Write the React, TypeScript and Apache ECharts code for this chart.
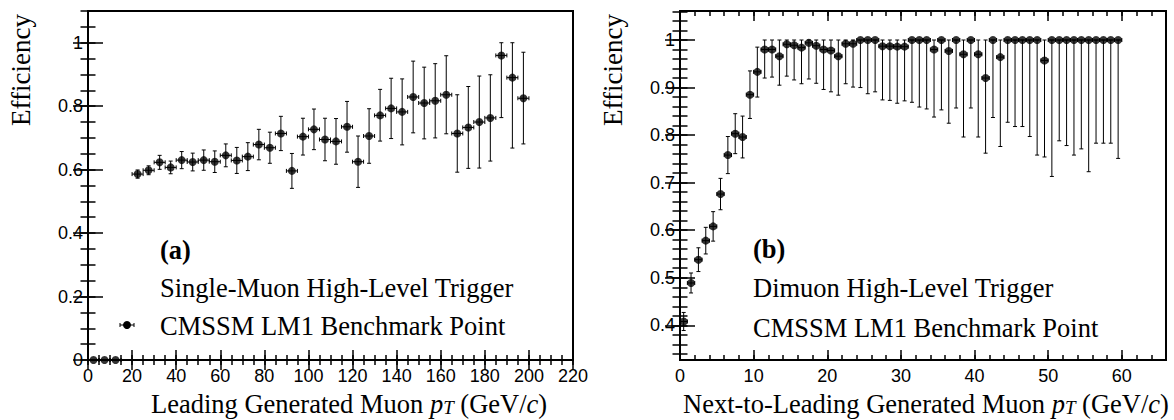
import React, { useEffect, useRef } from 'react';
import * as echarts from 'echarts';

// ---------- Panel (a): leading muon ----------
const leftX = [2.5, 7.5, 12.5, 22.5, 27.5, 32.5, 37.5, 42.5, 47.5, 52.5, 57.5, 62.5, 67.5, 72.5, 77.5, 82.5, 87.5, 92.5, 97.5,
  102.5, 107.5, 112.5, 117.5, 122.5, 127.5, 132.5, 137.5, 142.5, 147.5, 152.5, 157.5, 162.5, 167.5, 172.5, 177.5, 182.5, 187.5, 192.5, 197.5];
const leftEff = [0, 0, 0, 0.586, 0.598, 0.623, 0.607, 0.630, 0.624, 0.630, 0.625, 0.645, 0.629, 0.641, 0.679, 0.669, 0.714, 0.596, 0.704,
  0.727, 0.695, 0.689, 0.735, 0.625, 0.706, 0.771, 0.793, 0.782, 0.829, 0.810, 0.817, 0.836, 0.714, 0.733, 0.750, 0.763, 0.960, 0.890, 0.825];
const leftLo = [0, 0, 0, 0.573, 0.584, 0.601, 0.587, 0.603, 0.596, 0.598, 0.591, 0.609, 0.588, 0.597, 0.631, 0.620, 0.660, 0.541, 0.646,
  0.663, 0.628, 0.617, 0.655, 0.544, 0.620, 0.690, 0.698, 0.678, 0.716, 0.697, 0.700, 0.713, 0.592, 0.604, 0.605, 0.627, 0.764, 0.668, 0.681];
const leftHi = [0, 0, 0, 0.599, 0.612, 0.645, 0.627, 0.657, 0.652, 0.662, 0.659, 0.681, 0.670, 0.685, 0.727, 0.718, 0.768, 0.651, 0.762,
  0.791, 0.762, 0.761, 0.815, 0.706, 0.792, 0.853, 0.888, 0.886, 0.942, 0.923, 0.934, 0.959, 0.836, 0.862, 0.895, 0.899, 1.000, 1.000, 0.970];
const leftBinHalf = 2.5;

// ---------- Panel (b): next-to-leading muon ----------
const rightX = [0.5, 1.5, 2.5, 3.5, 4.5, 5.5, 6.5, 7.5, 8.5, 9.5, 10.5, 11.5, 12.5, 13.5, 14.5, 15.5, 16.5, 17.5, 18.5, 19.5,
  20.5, 21.5, 22.5, 23.5, 24.5, 25.5, 26.5, 27.5, 28.5, 29.5, 30.5, 31.5, 32.5, 33.5, 34.5, 35.5, 36.5, 37.5, 38.5, 39.5,
  40.5, 41.5, 42.5, 43.5, 44.5, 45.5, 46.5, 47.5, 48.5, 49.5, 50.5, 51.5, 52.5, 53.5, 54.5, 55.5, 56.5, 57.5, 58.5, 59.5];
const rightEff = [0.408, 0.489, 0.538, 0.578, 0.608, 0.676, 0.758, 0.803, 0.796, 0.885, 0.933, 0.980, 0.980, 0.966, 0.991, 0.989, 0.984, 0.994, 0.988, 0.980,
  0.978, 0.966, 0.992, 0.992, 1.0, 1.0, 1.0, 0.987, 0.987, 0.986, 0.986, 1.0, 1.0, 1.0, 0.980, 1.0, 0.977, 1.0, 0.970, 1.0,
  0.970, 0.920, 1.0, 0.964, 1.0, 1.0, 1.0, 1.0, 1.0, 0.957, 1.0, 1.0, 1.0, 1.0, 1.0, 1.0, 1.0, 1.0, 1.0, 1.0];
const rightLo = [0.389, 0.468, 0.513, 0.550, 0.577, 0.643, 0.719, 0.761, 0.752, 0.835, 0.880, 0.920, 0.922, 0.905, 0.924, 0.916, 0.908, 0.918, 0.909, 0.896,
  0.891, 0.884, 0.908, 0.901, 0.900, 0.887, 0.891, 0.874, 0.873, 0.867, 0.872, 0.869, 0.859, 0.855, 0.838, 0.853, 0.825, 0.857, 0.796, 0.857,
  0.796, 0.762, 0.837, 0.776, 0.827, 0.818, 0.818, 0.797, 0.758, 0.754, 0.713, 0.788, 0.778, 0.758, 0.771, 0.723, 0.783, 0.783, 0.783, 0.751];
const rightHi = [0.427, 0.510, 0.563, 0.606, 0.639, 0.709, 0.797, 0.845, 0.840, 0.935, 0.985, 1.0, 1.0, 1.0, 1.0, 1.0, 1.0, 1.0, 1.0, 1.0,
  1.0, 1.0, 1.0, 1.0, 1.0, 1.0, 1.0, 1.0, 1.0, 1.0, 1.0, 1.0, 1.0, 1.0, 1.0, 1.0, 1.0, 1.0, 1.0, 1.0,
  1.0, 1.0, 1.0, 1.0, 1.0, 1.0, 1.0, 1.0, 1.0, 1.0, 1.0, 1.0, 1.0, 1.0, 1.0, 1.0, 1.0, 1.0, 1.0, 1.0];
const rightBinHalf = 0.5;

// ---------- Tick labels ----------
const leftXTicks = [0, 20, 40, 60, 80, 100, 120, 140, 160, 180, 200, 220];
const leftYTicks = [0, 0.2, 0.4, 0.6, 0.8, 1];
const rightXTicks = [0, 10, 20, 30, 40, 50, 60];
const rightYTicks = [0.4, 0.5, 0.6, 0.7, 0.8, 0.9, 1];

function steps(a: number, b: number, s: number) {
  const out: number[] = [];
  for (let i = 0; a + i * s <= b + 1e-9; i++) out.push(Math.round((a + i * s) * 1000) / 1000);
  return out;
}

const SANS = 'Liberation Sans';
const SERIF = 'Liberation Serif';

function axes(gridIndex: number, min: number, max: number, major: number[], minor: number[], majorLen: number, minorLen: number, pos: string[], margin: number) {
  const mk = (position: string, ticks: number[], len: number, labels: boolean) => ({
    type: 'value', gridIndex, min, max, position,
    axisLine: { show: false },
    splitLine: { show: false },
    axisTick: { show: true, inside: true, length: len, customValues: ticks, lineStyle: { color: '#000', width: 1.5 } },
    axisLabel: labels
      ? { show: true, customValues: major, margin, color: '#000', fontFamily: SANS, fontSize: 18, formatter: (v: number) => String(v) }
      : { show: false },
  });
  return [
    mk(pos[0], major, majorLen, true),
    mk(pos[0], minor, minorLen, false),
    mk(pos[1], major, majorLen, false),
    mk(pos[1], minor, minorLen, false),
  ];
}

function errRender(params: any, api: any) {
  const x = api.value(0), y = api.value(1), lo = api.value(2), hi = api.value(3), xe = api.value(4);
  const c = api.coord([x, y]);
  const pLo = api.coord([x, lo]);
  const pHi = api.coord([x, hi]);
  const pL = api.coord([x - xe, y]);
  const pR = api.coord([x + xe, y]);
  const cap = 2;
  const st = { stroke: '#000', lineWidth: 1 };
  const ch: any[] = [];
  if (hi > lo) {
    ch.push({ type: 'line', shape: { x1: c[0], y1: pLo[1], x2: c[0], y2: pHi[1] }, style: st });
    ch.push({ type: 'line', shape: { x1: c[0] - cap, y1: pLo[1], x2: c[0] + cap, y2: pLo[1] }, style: st });
    ch.push({ type: 'line', shape: { x1: c[0] - cap, y1: pHi[1], x2: c[0] + cap, y2: pHi[1] }, style: st });
  }
  ch.push({ type: 'line', shape: { x1: pL[0], y1: c[1], x2: pR[0], y2: c[1] }, style: st });
  ch.push({ type: 'line', shape: { x1: pL[0], y1: c[1] - cap, x2: pL[0], y2: c[1] + cap }, style: st });
  ch.push({ type: 'line', shape: { x1: pR[0], y1: c[1] - cap, x2: pR[0], y2: c[1] + cap }, style: st });
  return { type: 'group', children: ch };
}

const titleRich = {
  n: { fontFamily: SERIF, fontSize: 26.5, lineHeight: 26, fill: '#000' },
  i: { fontFamily: SERIF, fontSize: 26.5, fontStyle: 'italic', lineHeight: 26, fill: '#000' },
  s: { fontFamily: SERIF, fontSize: 19, fontStyle: 'italic', lineHeight: 18, verticalAlign: 'bottom', fill: '#000' },
};

function serifText(x: number, y: number, text: string, bold = false) {
  return {
    type: 'text', x, y,
    style: { text, fill: '#000', fontFamily: SERIF, fontSize: 26.5, fontWeight: bold ? 'bold' : 'normal', align: 'left', verticalAlign: 'middle', textAlign: 'left', textVerticalAlign: 'middle' },
  };
}

export default function App() {
  const ref = useRef<HTMLDivElement>(null);
  useEffect(() => {
    if (!ref.current) return;
    const chart = echarts.init(ref.current, undefined, { renderer: 'svg' });
    const xAxes = [
      ...axes(0, 0, 220, leftXTicks, steps(0, 220, 5), 10, 5, ['bottom', 'top'], 7),
      ...axes(1, 0, 66, rightXTicks, steps(0, 66, 2), 10, 5, ['bottom', 'top'], 7),
    ];
    const yAxes = [
      ...axes(0, 0, 1.1, leftYTicks, steps(0, 1.1, 0.05), 15, 7.5, ['left', 'right'], 5),
      ...axes(1, 0.327, 1.061, rightYTicks, steps(0.34, 1.06, 0.02), 15, 7.5, ['left', 'right'], 5),
    ];
    const leftData = leftX.map((x, i) => [x, leftEff[i], leftLo[i], leftHi[i], leftBinHalf]);
    const rightData = rightX.map((x, i) => [x, rightEff[i], rightLo[i], rightHi[i], rightBinHalf]);
    chart.setOption({
      animation: false,
      backgroundColor: '#fff',
      grid: [
        { left: 88, top: 11, width: 485, height: 349, show: true, borderColor: '#000', borderWidth: 2, backgroundColor: 'transparent' },
        { left: 680, top: 11, width: 486, height: 349, show: true, borderColor: '#000', borderWidth: 2, backgroundColor: 'transparent' },
      ],
      xAxis: xAxes,
      yAxis: yAxes,
      series: [
        { type: 'custom', xAxisIndex: 0, yAxisIndex: 0, renderItem: errRender, data: leftData, clip: false, z: 2 },
        { type: 'scatter', xAxisIndex: 0, yAxisIndex: 0, data: leftData.map((d) => [d[0], d[1]]), symbol: 'circle', symbolSize: 8, itemStyle: { color: '#000' }, clip: false, z: 3 },
        { type: 'custom', xAxisIndex: 4, yAxisIndex: 4, renderItem: errRender, data: rightData, clip: false, z: 2 },
        { type: 'scatter', xAxisIndex: 4, yAxisIndex: 4, data: rightData.map((d) => [d[0], d[1]]), symbol: 'circle', symbolSize: 8, itemStyle: { color: '#000' }, clip: false, z: 3 },
      ],
      graphic: [
        { type: 'text', x: 21, y: 70, rotation: Math.PI / 2, style: { text: 'Efficiency', fill: '#000', fontFamily: SERIF, fontSize: 27, align: 'center', verticalAlign: 'middle', textAlign: 'center', textVerticalAlign: 'middle' } },
        { type: 'text', x: 613, y: 70, rotation: Math.PI / 2, style: { text: 'Efficiency', fill: '#000', fontFamily: SERIF, fontSize: 27, align: 'center', verticalAlign: 'middle', textAlign: 'center', textVerticalAlign: 'middle' } },
        { type: 'text', x: 151, y: 404, style: { text: '{n|Leading Generated Muon }{i|p}{s|T}{n| (GeV/}{i|c}{n|)}', rich: titleRich, align: 'left', verticalAlign: 'middle', textAlign: 'left', textVerticalAlign: 'middle' } },
        { type: 'text', x: 683, y: 404, style: { text: '{n|Next-to-Leading Generated Muon }{i|p}{s|T}{n| (GeV/}{i|c}{n|)}', rich: titleRich, align: 'left', verticalAlign: 'middle', textAlign: 'left', textVerticalAlign: 'middle' } },
        serifText(160, 250, '(a)', true),
        serifText(160, 288, 'Single-Muon High-Level Trigger'),
        serifText(160, 326, 'CMSSM LM1 Benchmark Point'),
        { type: 'line', shape: { x1: 120, y1: 325, x2: 134, y2: 325 }, style: { stroke: '#000', lineWidth: 1 } },
        { type: 'line', shape: { x1: 120, y1: 323, x2: 120, y2: 327 }, style: { stroke: '#000', lineWidth: 1 } },
        { type: 'line', shape: { x1: 134, y1: 323, x2: 134, y2: 327 }, style: { stroke: '#000', lineWidth: 1 } },
        { type: 'circle', shape: { cx: 127, cy: 325, r: 4 }, style: { fill: '#000' } },
        serifText(753, 249, '(b)', true),
        serifText(753, 288, 'Dimuon High-Level Trigger'),
        serifText(753, 328, 'CMSSM LM1 Benchmark Point'),
      ],
    });
    return () => chart.dispose();
  }, []);
  return <div ref={ref} style={{ position: 'absolute', left: 0, top: 0, width: 1174, height: 420 }} />;
}
